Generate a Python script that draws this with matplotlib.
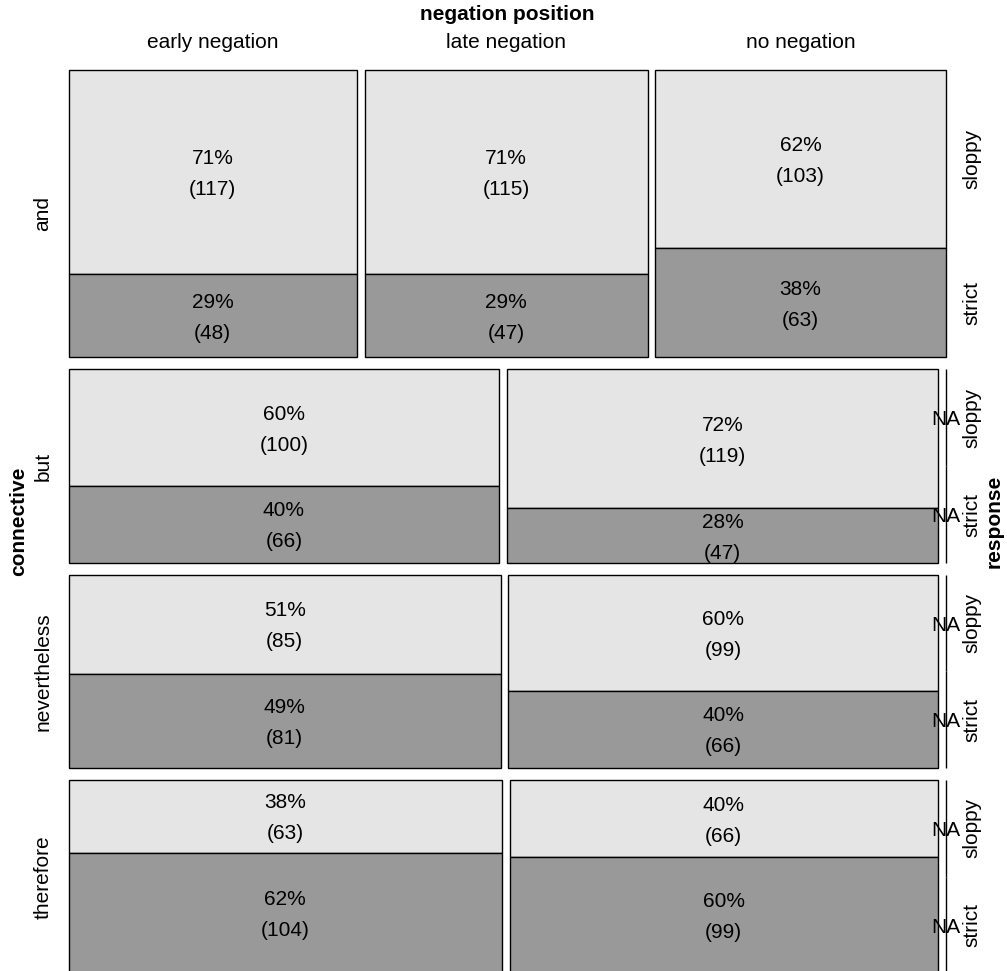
import numpy as np
import matplotlib.pyplot as plt
from matplotlib.patches import Rectangle

plt.rcParams["font.family"] = ["Liberation Sans", "DejaVu Sans"]

# ---------------------------- Data -----------------------------------
connectives = ["and", "but", "nevertheless", "therefore"]
positions = ["early negation", "late negation", "no negation"]
responses = ["sloppy", "strict"]

# counts per connective, columns = early / late / no negation
sloppy_counts = {
    "and": [117, 115, 103],
    "but": [100, 0, 119],
    "nevertheless": [85, 0, 99],
    "therefore": [63, 0, 66],
}
strict_counts = {
    "and": [48, 47, 63],
    "but": [66, 0, 47],
    "nevertheless": [81, 0, 66],
    "therefore": [104, 0, 99],
}

# ---------------------------- Layout ---------------------------------
FIG_W, FIG_H = 1007, 971
LEFT, RIGHT = 68.5, 945.5
TOP, BOTTOM = 70.0, 973.5
HGAP, VGAP = 7.6, 12.0
LINE_OFF = 15.5
FS = 15
COL_SLOPPY = "#e5e5e5"
COL_STRICT = "#999999"

fig = plt.figure(figsize=(FIG_W / 100, FIG_H / 100), dpi=100)
ax = fig.add_axes([0, 0, 1, 1])
ax.set_xlim(0, FIG_W)
ax.set_ylim(FIG_H, 0)
ax.axis("off")

row_tot = [sum(sloppy_counts[c]) + sum(strict_counts[c]) for c in connectives]
grand = sum(row_tot)
yscale = (BOTTOM - TOP - VGAP * (len(connectives) - 1)) / grand


def cell_label(rect, x, y, txt1, txt2):
    for dy, s in ((-LINE_OFF, txt1), (LINE_OFF, txt2)):
        t = ax.text(x, y + dy, s, ha="center", va="center", fontsize=FS, zorder=4)
        t.set_clip_path(rect)


y0 = TOP
for r, con in enumerate(connectives):
    sl = np.array(sloppy_counts[con])
    st = np.array(strict_counts[con])
    tot = sl + st
    h = row_tot[r] * yscale
    # non-empty columns first, empty ones end up at the right edge
    order = [j for j in range(len(positions)) if tot[j] > 0] + \
            [j for j in range(len(positions)) if tot[j] == 0]
    avail = (RIGHT - LEFT) - HGAP * (len(positions) - 1)
    x = LEFT
    last_split = None
    for j in order:
        w = avail * tot[j] / row_tot[r]
        p_sl = sl[j] / tot[j] if tot[j] > 0 else 0.5
        h_sl = h * p_sl
        r1 = Rectangle((x, y0), w, h_sl, facecolor=COL_SLOPPY, edgecolor="black",
                       linewidth=1.0, zorder=2)
        r2 = Rectangle((x, y0 + h_sl), w, h - h_sl, facecolor=COL_STRICT,
                       edgecolor="black", linewidth=1.0, zorder=2)
        ax.add_patch(r1)
        ax.add_patch(r2)
        cx = x + w / 2
        if tot[j] > 0:
            cell_label(r1, cx, y0 + h_sl / 2 + 2,
                       f"{round(100 * p_sl)}%", f"({sl[j]})")
            cell_label(r2, cx, y0 + h_sl + (h - h_sl) / 2 + 2,
                       f"{round(100 * (1 - p_sl))}%", f"({st[j]})")
        else:
            ax.text(cx, y0 + h_sl / 2 + 2, "NA", ha="center", va="center",
                    fontsize=FS, zorder=4)
            ax.text(cx, y0 + h_sl + (h - h_sl) / 2 + 2, "NA", ha="center",
                    va="center", fontsize=FS, zorder=4)
        if r == 0:
            ax.text(cx, 42, positions[j], ha="center", va="center", fontsize=FS)
        last_split = (y0 + h_sl / 2, y0 + h_sl + (h - h_sl) / 2)
        x += w + HGAP
    # response labels at the right, following the last cell of the row
    ax.text(972, last_split[0], responses[0], rotation=90, ha="center",
            va="center", fontsize=FS)
    ax.text(972, last_split[1], responses[1], rotation=90, ha="center",
            va="center", fontsize=FS)
    ax.text(43, y0 + h / 2, con, rotation=90, ha="center", va="center", fontsize=FS)
    y0 += h + VGAP

ax.text((LEFT + RIGHT) / 2, 14, "negation position", ha="center", va="center",
        fontsize=FS, fontweight="bold")
ax.text(19, (TOP + BOTTOM) / 2, "connective", rotation=90, ha="center",
        va="center", fontsize=FS, fontweight="bold")
ax.text(994, (TOP + BOTTOM) / 2, "response", rotation=90, ha="center",
        va="center", fontsize=FS, fontweight="bold")

fig.savefig("out.png", dpi=100)
